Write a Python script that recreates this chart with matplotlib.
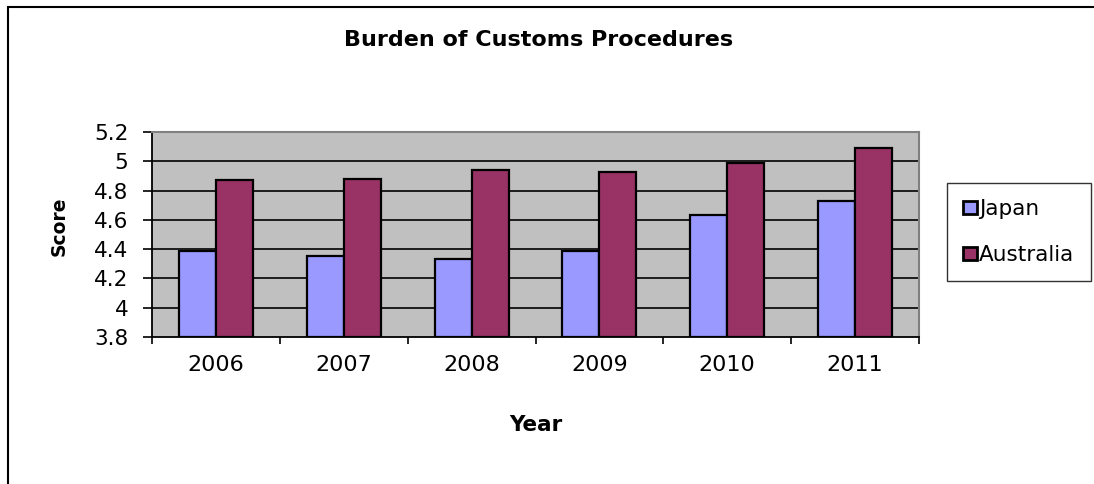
"""
    burden of customs procedures
"""

import numpy
from matplotlib import pyplot as plt
from matplotlib.patches import Rectangle

years     = ["2006", "2007", "2008", "2009", "2010", "2011"]
japan     = [4.39, 4.35, 4.33, 4.39, 4.63, 4.73]
australia = [4.87, 4.88, 4.94, 4.93, 4.99, 5.09]
yticks    = [3.8, 4.0, 4.2, 4.4, 4.6, 4.8, 5.0, 5.2]
ytlabels  = ["3.8", "4", "4.2", "4.4", "4.6", "4.8", "5", "5.2"]

plt.rcParams['font.family'] = ['DejaVu Sans']

def main() :
    W, H = 1094, 484
    fig = plt.figure(figsize=(W/100, H/100), dpi=100)
    # outer chart border, right and bottom edges fall outside the picture
    fig.patches.append(Rectangle((8/W, -0.5), 1.5, 1.5 - 7/H, transform=fig.transFigure,
                                 fill=False, edgecolor="black", linewidth=1.5))

    ax = fig.add_axes([152/W, 1 - 337/H, (919 - 152)/W, (337 - 132)/H])
    ax.set_facecolor("#C0C0C0")

    xx = numpy.arange(len(years))
    wd = 0.29
    b1 = ax.bar(xx - wd/2, numpy.array(japan) - 3.8, wd, bottom=3.8, color="#9999FF",
                edgecolor="black", linewidth=1.6, label="Japan", zorder=3)
    b2 = ax.bar(xx + wd/2, numpy.array(australia) - 3.8, wd, bottom=3.8, color="#993366",
                edgecolor="black", linewidth=1.6, label="Australia", zorder=3)

    ax.set_ylim(3.8, 5.2)
    ax.set_xlim(-0.5, len(years) - 0.5)
    ax.set_yticks(yticks)
    ax.set_yticklabels(ytlabels, fontsize=15.5)
    for yv in yticks[1:-1] :
        ax.axhline(yv, color="black", linewidth=1.2, zorder=1)

    ax.set_xticks(numpy.arange(-0.5, len(years), 1.0))
    ax.set_xticklabels([])
    ax.set_xticks(xx, minor=True)
    ax.set_xticklabels(years, minor=True, fontsize=16)
    ax.tick_params(axis="x", which="minor", length=0, pad=13)
    ax.tick_params(axis="x", which="major", length=5, width=1.2, direction="out")
    ax.tick_params(axis="y", length=6.5, width=1.2, direction="out", pad=10.5)

    for s in ["top", "right"] :
        ax.spines[s].set_color("#808080")
        ax.spines[s].set_linewidth(1.5)
    for s in ["left", "bottom"] :
        ax.spines[s].set_color("black")
        ax.spines[s].set_linewidth(1.3)

    fig.text(539/W, 1 - 40/H, "Burden of Customs Procedures", ha="center", va="center",
             fontsize=16, fontweight="bold")
    fig.text(59/W, 1 - 226/H, "Score", ha="center", va="center", rotation=90,
             fontsize=13.5, fontweight="bold")
    fig.text(536/W, 1 - 425/H, "Year", ha="center", va="center",
             fontsize=15.5, fontweight="bold")

    leg = fig.legend(handles=[b1, b2], loc="upper left", bbox_to_anchor=(947/W, 1 - 183/H),
                     fontsize=15.5, frameon=True, fancybox=False, edgecolor="black",
                     handlelength=0.65, handleheight=0.55, handletextpad=0.1,
                     labelspacing=1.2, borderpad=0.75, borderaxespad=0)
    leg.get_frame().set_linewidth(1.0)
    for hh in leg.legend_handles :
        hh.set_linewidth(2.0)

    fig.savefig("out.png", dpi=100)

if __name__ == '__main__' :
    main()
